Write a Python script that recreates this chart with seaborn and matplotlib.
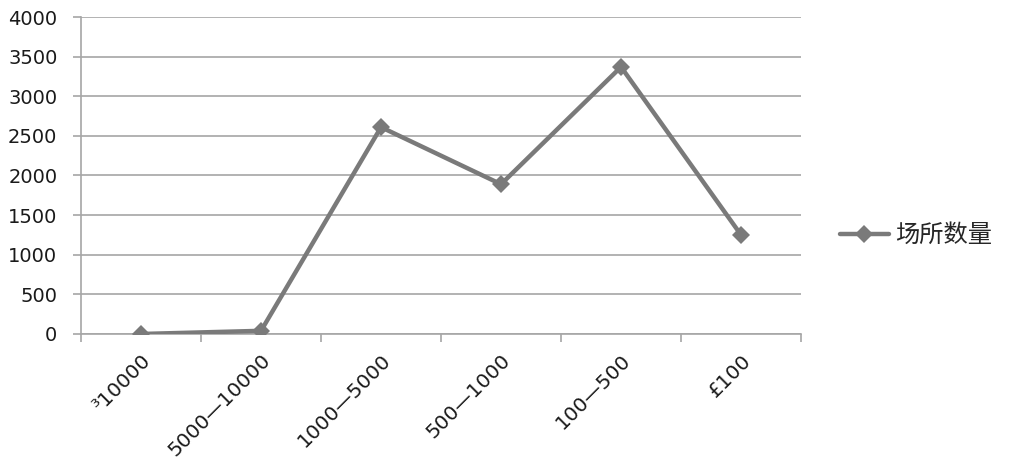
import numpy as np
import pandas as pd
import matplotlib
matplotlib.use("Agg")
import matplotlib.pyplot as plt
import seaborn as sns

# datos
categorias = ["³10000", "5000—10000", "1000—5000", "500—1000", "100—500", "£100"]
valores = [0, 40, 2610, 1890, 3370, 1250]
serie = "场所数量"
yticks = [0, 500, 1000, 1500, 2000, 2500, 3000, 3500, 4000]

sns.set_style("white")
plt.rcParams['font.family'] = ['DejaVu Sans', 'Noto Sans CJK SC']

df = pd.DataFrame({"pos": np.arange(len(categorias)), "valor": valores, "serie": serie})

fig = plt.figure(figsize=(10.09, 4.74), dpi=100, facecolor="white")
ax = fig.add_axes([0.0803, 0.2954, 0.7136, 0.6687])

gris_linea = "#7a7a7a"
gris_grid = "#a6a6a6"

sns.lineplot(data=df, x="pos", y="valor", hue="serie", palette=[gris_linea],
             marker="D", markersize=9.5, markeredgewidth=0, lw=3.2,
             sort=False, zorder=3, ax=ax)

ax.set_xlim(-0.5, len(categorias) - 0.5)
ax.set_ylim(0, 4000)
ax.set_yticks(yticks)
ax.set_yticklabels([str(v) for v in yticks])
ax.yaxis.grid(True, color=gris_grid, lw=1.2, zorder=1)
ax.xaxis.grid(False)

# ticks en los bordes de categoria, etiquetas en el centro
ax.set_xticks(np.arange(len(categorias) + 1) - 0.5)
ax.set_xticklabels([""] * (len(categorias) + 1))
ax.set_xticks(np.arange(len(categorias)), minor=True)
ax.set_xticklabels(categorias, minor=True, rotation=45, ha="right",
                   rotation_mode="anchor", fontsize=14.5, color="#1a1a1a")
ax.tick_params(axis="x", which="major", direction="out", length=6,
               width=1.2, color=gris_grid, bottom=True)
ax.tick_params(axis="x", which="minor", length=0, pad=12)
ax.tick_params(axis="y", direction="out", length=6, width=1.2,
               color=gris_grid, left=True, pad=11, labelsize=14,
               labelcolor="#1a1a1a")

for side in ["top", "right"]:
    ax.spines[side].set_visible(False)
for side in ["left", "bottom"]:
    ax.spines[side].set_color(gris_grid)
    ax.spines[side].set_linewidth(1.2)

ax.set_xlabel("")
ax.set_ylabel("")

leg = ax.legend(loc="center left", bbox_to_anchor=(0.8325, 0.504),
                bbox_transform=fig.transFigure, frameon=False,
                handlelength=2.0, handletextpad=0.28,
                borderaxespad=0, borderpad=0,
                prop={"family": ["Noto Sans CJK SC", "DejaVu Sans"], "size": 17.5})

fig.savefig("out.png", dpi=100)
